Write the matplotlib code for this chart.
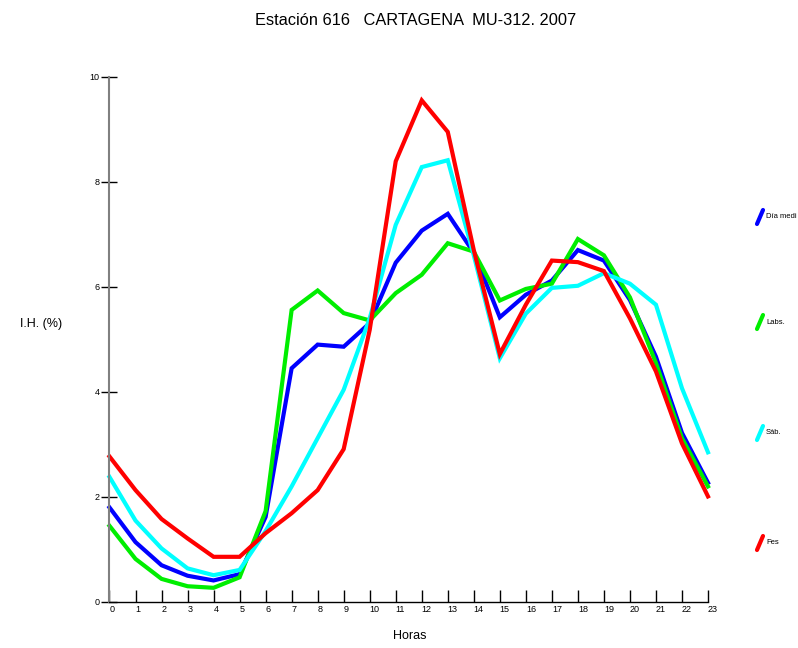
import matplotlib
matplotlib.use('Agg')
import matplotlib.pyplot as plt
from matplotlib.lines import Line2D

plt.rcParams['font.family'] = ['Liberation Sans', 'DejaVu Sans']

# data
horas = list(range(24))
dia_medio = [1.80, 1.14, 0.70, 0.50, 0.41, 0.53, 1.62, 4.45, 4.90, 4.86, 5.31, 6.46,
             7.07, 7.39, 6.65, 5.42, 5.85, 6.12, 6.70, 6.50, 5.75, 4.67, 3.22, 2.27]
laborables = [1.45, 0.82, 0.44, 0.30, 0.27, 0.47, 1.73, 5.56, 5.93, 5.50, 5.36, 5.88,
              6.23, 6.83, 6.67, 5.74, 5.96, 6.06, 6.91, 6.60, 5.80, 4.55, 3.12, 2.20]
sabados = [2.38, 1.55, 1.02, 0.64, 0.51, 0.61, 1.35, 2.20, 3.12, 4.04, 5.40, 7.18,
           8.28, 8.41, 6.60, 4.64, 5.49, 5.98, 6.02, 6.26, 6.06, 5.66, 4.07, 2.85]
festivos = [2.77, 2.13, 1.58, 1.21, 0.86, 0.86, 1.31, 1.69, 2.13, 2.91, 5.18, 8.39,
            9.55, 8.95, 6.70, 4.72, 5.66, 6.50, 6.47, 6.30, 5.40, 4.39, 3.02, 2.01]

series = [('Día medi', dia_medio, '#0000ff'),
          ('Labs.', laborables, '#00ee00'),
          ('Sáb.', sabados, '#00ffff'),
          ('Fes', festivos, '#ff0000')]

fig = plt.figure(figsize=(7.98, 6.48), dpi=100)
ax = fig.add_axes([0.1372, 0.071, 0.75, 0.8106])

for name, vals, col in series:
    ax.plot(horas, vals, color=col, lw=3, solid_joinstyle='miter', clip_on=False, zorder=1)

ax.set_xlim(0, 23)
ax.set_ylim(0, 10)
ax.set_xticks(horas)
ax.set_xticklabels([str(h) for h in horas], ha='left')
ax.set_yticks([0, 2, 4, 6, 8, 10])
ax.tick_params(axis='x', direction='in', length=8.6, width=1, labelsize=6.5, pad=2)
ax.tick_params(axis='y', direction='inout', length=12, width=1, labelsize=6.5, pad=1)
for s in ['top', 'right']:
    ax.spines[s].set_visible(False)
ax.spines['left'].set_color('#808080')
ax.spines['left'].set_linewidth(1.5)
ax.spines['bottom'].set_linewidth(1)

fig.text(0.521, 0.968, 'Estación 616   CARTAGENA  MU-312. 2007', ha='center', va='center', fontsize=11.8)
fig.text(0.052, 0.50, 'I.H. (%)', ha='center', va='center', fontsize=9)
fig.text(0.514, 0.019, 'Horas', ha='center', va='center', fontsize=9)

# legend on the right
leg_y = [217, 322, 433, 543]
for (name, vals, col), yp in zip(series, leg_y):
    yf = 1 - yp / 648
    fig.add_artist(Line2D([757 / 798, 763 / 798], [yf - 7 / 648, yf + 7 / 648],
                          color=col, lw=3, solid_capstyle='round'))
    fig.text(766 / 798, yf, name, ha='left', va='center', fontsize=5.5)

fig.savefig('out.png', dpi=100)
